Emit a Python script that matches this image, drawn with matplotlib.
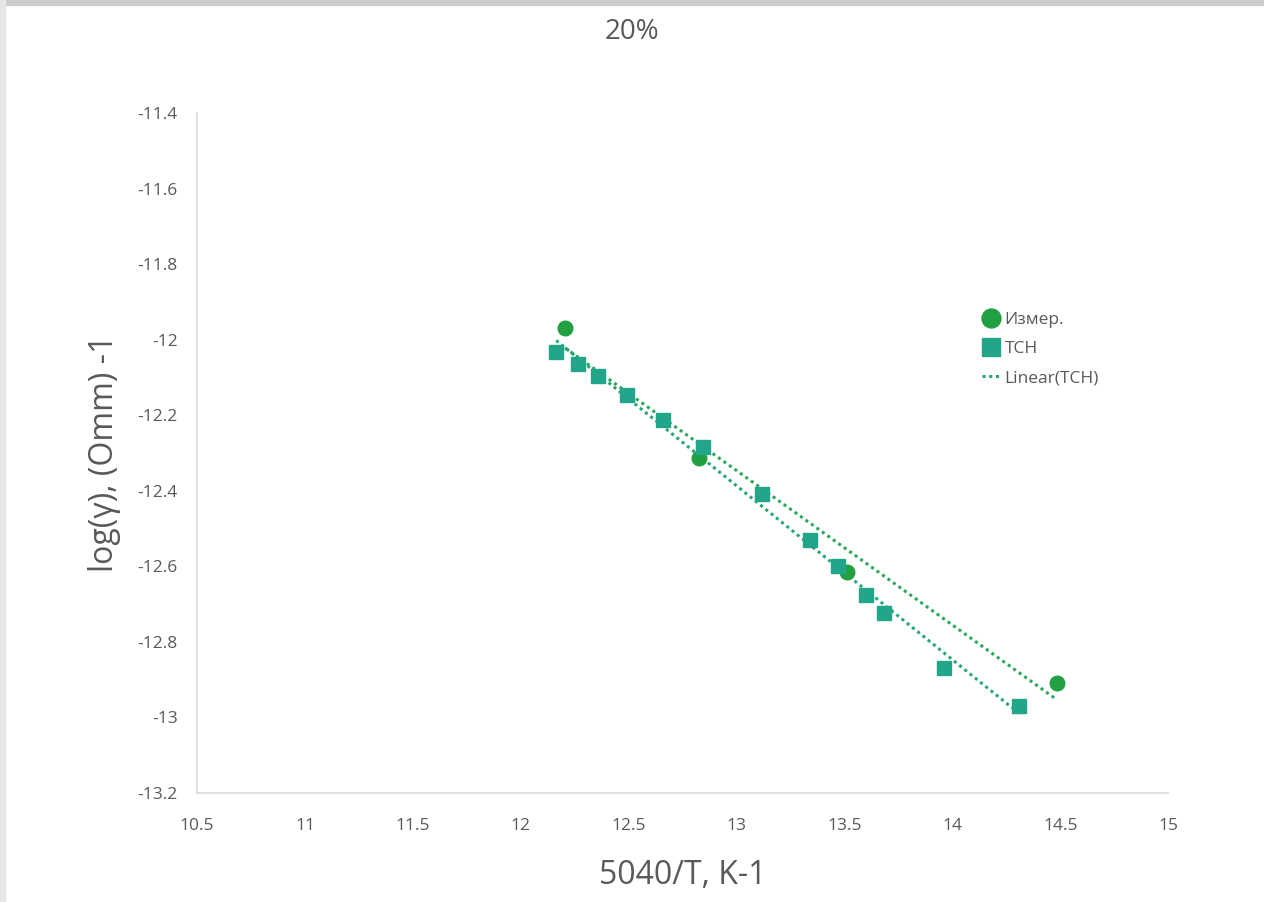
import numpy as np
import matplotlib.pyplot as plt

# measured points (circles)
x_meas = [12.205, 12.826, 13.512, 14.485]
y_meas = [-11.969, -12.313, -12.615, -12.909]

# TCH points (squares)
x_tch = [12.164, 12.266, 12.358, 12.493, 12.659, 12.845, 13.118,
         13.341, 13.470, 13.600, 13.683, 13.962, 14.309]
y_tch = [-12.033, -12.064, -12.096, -12.146, -12.213, -12.284, -12.408,
         -12.530, -12.599, -12.676, -12.723, -12.869, -12.970]

title = '20%'
xlabel = '5040/T, K-1'
ylabel = 'log(\u03b3), (Omm) -1'

GREEN = '#21a041'
TEAL = '#22a588'
GREY = '#595959'

plt.rcParams['font.family'] = ['Open Sans', 'DejaVu Sans']

fig = plt.figure(figsize=(12.64, 9.02), dpi=100)
ax = fig.add_axes([0.1559, 0.1208, 0.7683, 0.7539])

# trend lines (linear fits)
p_meas = np.polyfit(x_meas, y_meas, 1)
p_tch = np.polyfit(x_tch, y_tch, 1)
xm = np.array([min(x_meas), max(x_meas)])
xt = np.array([min(x_tch), max(x_tch)])
ax.plot(xm, np.polyval(p_meas, xm), ls=(0, (1, 1.2)), lw=2.2, color='#2aa85a', zorder=2)
ax.plot(xt, np.polyval(p_tch, xt), ls=(0, (1, 1.2)), lw=2.2, color='#25a773', zorder=2,
        label='Linear(TCH)')

ax.plot(x_meas, y_meas, 'o', ms=10.5, color=GREEN, mec=GREEN, ls='none', zorder=3, label='Измер.')
ax.plot(x_tch, y_tch, 's', ms=10.5, color=TEAL, mec=TEAL, ls='none', zorder=3, label='TCH')

ax.set_xlim(10.5, 15)
ax.set_ylim(-13.2, -11.4)
ax.set_xticks(np.arange(10.5, 15.01, 0.5))
ax.set_yticks(np.arange(-13.2, -11.39, 0.2))
ax.xaxis.set_major_formatter(plt.FuncFormatter(lambda v, p: ('%g' % round(v, 1))))
ax.yaxis.set_major_formatter(plt.FuncFormatter(lambda v, p: ('%g' % round(v, 1))))

for s in ['top', 'right']:
    ax.spines[s].set_visible(False)
for s in ['left', 'bottom']:
    ax.spines[s].set_color('#d9d9d9')
    ax.spines[s].set_linewidth(1.2)
ax.tick_params(length=0, labelsize=12.5, colors=GREY, pad=14)
ax.tick_params(axis='x', pad=18)

ax.set_xlabel(xlabel, fontsize=23, color=GREY, labelpad=18)
ax.set_ylabel(ylabel, fontsize=23, color=GREY, labelpad=12)
fig.text(0.5, 0.965, title, ha='center', va='center', fontsize=20, color=GREY)

h, l = ax.get_legend_handles_labels()
order = [1, 2, 0]
leg = ax.legend([h[i] for i in order], [l[i] for i in order],
                loc='upper left', bbox_to_anchor=(0.801, 0.718), frameon=False,
                fontsize=12.5, labelcolor=GREY, handlelength=1.0, handletextpad=0.3,
                labelspacing=0.75, borderaxespad=0, markerscale=1.3)

# gray frame strips at top and left
fig.patches.append(plt.Rectangle((0, 1 - 5 / 902), 1, 5 / 902, transform=fig.transFigure,
                                 color='#cccccc', zorder=0))
fig.patches.append(plt.Rectangle((0, 0), 5 / 1264, 1, transform=fig.transFigure,
                                 color='#e6e6e6', zorder=0))

fig.savefig('out.png', dpi=100)
